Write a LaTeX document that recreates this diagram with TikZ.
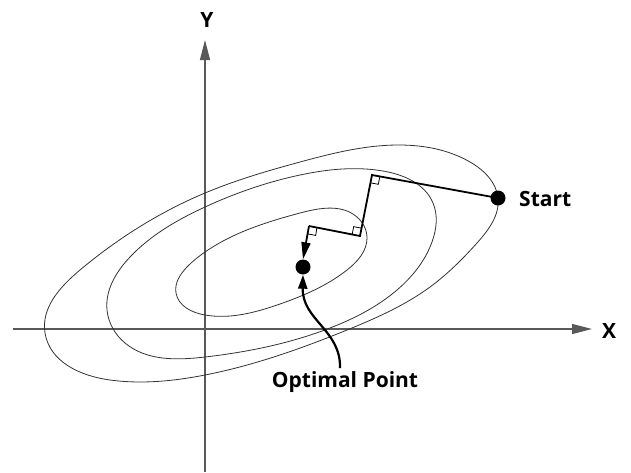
\documentclass[tikz,border=0pt]{standalone}
\usepackage{fontspec}
\setmainfont{Open Sans}
\usetikzlibrary{arrows.meta,calc,hobby}
\tikzset{
  contour/.style={draw=black!80, line width=0.8pt},
  axis/.style={draw=black!65, line width=1.3pt, -{Triangle[length=20pt,width=10pt]}},
  pathline/.style={draw=black, line width=1.8pt, line join=miter},
  anglebox/.style={draw=black, line width=0.8pt, fill=white},
  dot/.style={circle, fill=black, inner sep=0pt, minimum size=15pt},
  lbl/.style={font=\fontsize{21}{25}\selectfont\bfseries, inner sep=0pt},
}
\begin{document}
\begin{tikzpicture}[x=1pt,y=-1pt]
\useasboundingbox (0,0) rectangle (631,472);
% axes
\coordinate (xl) at (13,329);
\coordinate (xr) at (592,329);
\coordinate (yb) at (205,472);
\coordinate (yt) at (205,40);
\draw[axis] (xl) -- (xr);
\draw[axis] (yb) -- (yt);
\node[lbl] (xlab) at (609,331) {X};
\node[lbl] (ylab) at (207,20) {Y};
% contours
\draw[contour] plot[closed hobby] coordinates {
 (45,333) (80,270) (205,193) (300,162) (400,145) (470,162)
 (498,198) (477,243) (430,287) (347,330) (205,375) (110,380)};
\draw[contour] plot[closed hobby] coordinates {
 (107,310) (130,257) (205,207) (300,175) (383,171) (433,203) (432,242)
 (397,290) (330,328) (205,357) (125,343)};
\draw[contour] plot[closed hobby] coordinates {
 (176,293) (187,267) (205,252) (300,213) (357,217) (367,238) (347,270)
 (280,304) (205,315)};
% points
\node[dot] (start) at (498,198) {};
\node[dot] (opt) at (303,267) {};
\coordinate (c1) at (372,175);
\coordinate (c2) at (360,236);
\coordinate (c3) at (309,226);
% right-angle marks
\draw[anglebox] ($(c1)!8pt!(start)$) -- ($(c1)!8pt!(start) + (c1)!8pt!(c2) - (c1)$) -- ($(c1)!8pt!(c2)$);
\draw[anglebox] ($(c2)!8pt!(c1)$) -- ($(c2)!8pt!(c1) + (c2)!8pt!(c3) - (c2)$) -- ($(c2)!8pt!(c3)$);
\draw[anglebox] ($(c3)!8pt!(c2)$) -- ($(c3)!8pt!(c2) + (c3)!8pt!(opt) - (c3)$) -- ($(c3)!8pt!(opt)$);
% steepest descent path
\draw[pathline] (start.center) -- (c1) -- (c2) -- (c3);
\draw[pathline, -{Triangle[length=17pt,width=9pt]}] (c3) -- (opt.north);
% labels
\node[lbl, anchor=west] (startlab) at (519,199) {Start};
\node[lbl] (optlab) at (345,382) {Optimal Point};
\coordinate (optfoot) at (340,368);
\draw[black, line width=2.2pt, -{Triangle[length=14pt,width=9pt]}] (optfoot) .. controls (341,330) and (302,320) .. (opt.south);
\end{tikzpicture}
\end{document}
